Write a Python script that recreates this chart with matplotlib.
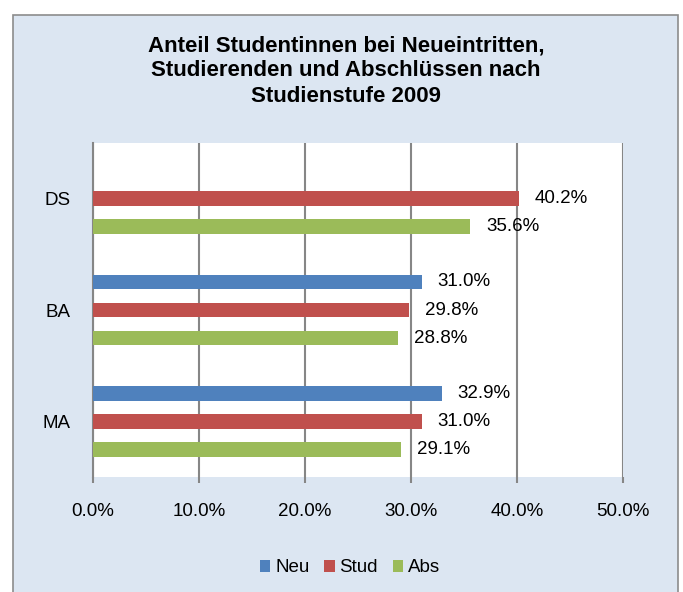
import numpy as np
import matplotlib.pyplot as plt
from matplotlib.patches import Rectangle

plt.rcParams['font.family'] = ['Liberation Sans', 'DejaVu Sans']

# data (percent)
categories = ["MA", "BA", "DS"]
neu = [32.9, 31.0, np.nan]
stud = [31.0, 29.8, 40.2]
abs_ = [29.1, 28.8, 35.6]
series_names = ["Neu", "Stud", "Abs"]
colors = ["#4f81bd", "#c0504d", "#9bbb59"]
xticks = [0, 10, 20, 30, 40, 50]

fig = plt.figure(figsize=(6.83, 5.92), dpi=100)
fig.patch.set_facecolor("white")

# chart area frame
frame = Rectangle((13 / 683, -0.05), (678 - 13) / 683, 1.05 - 15 / 592,
                  transform=fig.transFigure, facecolor="#dce6f2",
                  edgecolor="#8c8c8c", linewidth=1.2, zorder=-10)
fig.patches.append(frame)

ax = fig.add_axes([93 / 683, (592 - 477) / 592, 530 / 683, 334 / 592])
ax.set_facecolor("white")

y = np.arange(len(categories))
slot = 0.252
h = 0.13
for i, (vals, name, c) in enumerate(zip([neu, stud, abs_], series_names, colors)):
    pos = y + (1 - i) * slot
    ax.barh(pos, vals, height=h, color=c, label=name, zorder=3)
    for p, v in zip(pos, vals):
        if not np.isnan(v):
            ax.annotate(f"{v:.1f}%", (v, p), xytext=(11.5, 0),
                        textcoords="offset points", va="center", ha="left",
                        fontsize=13.5, color="black")

ax.set_xlim(0, 50)
ax.set_ylim(-0.5, 2.5)
ax.set_xticks(xticks)
ax.set_xticklabels([f"{t:.1f}%" for t in xticks], fontsize=13.5)
ax.set_yticks(y)
ax.set_yticklabels(categories, fontsize=13.5)
ax.tick_params(axis="y", length=0, pad=16)
ax.tick_params(axis="x", length=4, width=1.5, color="#868686", pad=15,
               direction="out")
ax.grid(axis="x", color="#868686", linewidth=1.5, zorder=1)
for s in ["top", "right", "bottom"]:
    ax.spines[s].set_visible(False)
ax.spines["left"].set_color("#868686")
ax.spines["left"].set_linewidth(1.5)

fig.text(346 / 683, 1 - 71 / 592,
         "Anteil Studentinnen bei Neueintritten,\nStudierenden und Abschlüssen nach\nStudienstufe 2009",
         ha="center", va="center", fontsize=16, fontweight="bold",
         linespacing=1.25)

fig.legend(loc="center", bbox_to_anchor=(350 / 683, 1 - 568 / 592), ncol=3,
           frameon=False, fontsize=13.5, handlelength=0.55, handleheight=0.55,
           handletextpad=0.25, columnspacing=0.8)

fig.savefig("out.png", dpi=100)
